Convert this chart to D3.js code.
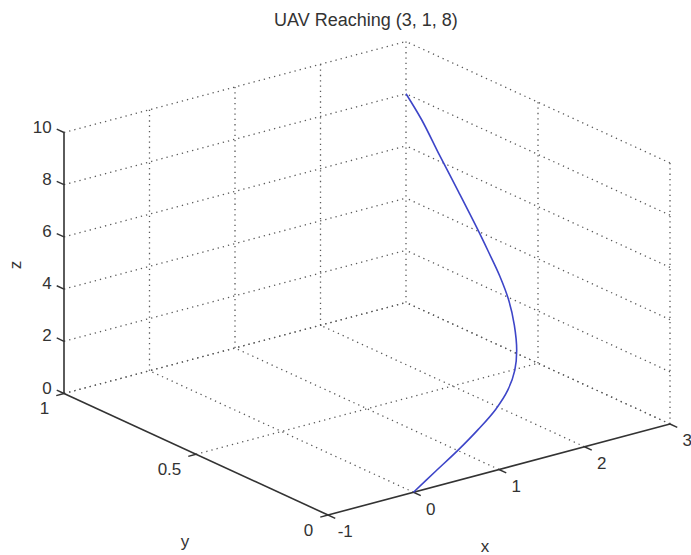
<!DOCTYPE html>
<html>
<head>
<meta charset="utf-8">
<script src="https://cdn.jsdelivr.net/npm/d3@7"></script>
<style>
  html, body { margin: 0; padding: 0; background: #fff; }
  svg { display: block; }
  text { font-family: "Liberation Sans", Arial, Helvetica, sans-serif; fill: #333; }
</style>
</head>
<body>
<svg id="chart" width="691" height="555"></svg>
<script>
// ---- data ----
const title = "UAV Reaching (3, 1, 8)";
const xTicks = [-1, 0, 1, 2, 3];
const yTicks = [0, 0.5, 1];
const zTicks = [0, 2, 4, 6, 8, 10];
const yTickLabels = ["0", "0.5", "1"];
const pathX = [0, 0.37, 0.75, 1.11, 1.43, 1.70, 1.92, 2.09, 2.26, 2.40, 2.50, 2.58, 2.65, 2.75, 2.85, 2.95, 3.0];
const pathY = [0, 0.037, 0.075, 0.114, 0.152, 0.193, 0.238, 0.286, 0.35, 0.417, 0.483, 0.553, 0.618, 0.72, 0.825, 0.924, 1.0];
const pathZ = [0, 0.30, 0.60, 0.91, 1.22, 1.54, 1.90, 2.29, 2.80, 3.34, 3.86, 4.42, 4.94, 5.76, 6.60, 7.39, 8.0];

// ---- projection built from linear scales ----
const xs = d3.scaleLinear().domain([-1, 3]).range([0, 1]);
const ys = d3.scaleLinear().domain([0, 1]).range([0, 1]);
const zs = d3.scaleLinear().domain([0, 10]).range([0, 261]);
const O = [328, 515];
const Xv = [342, -91];
const Yv = [-264, -121.5];
function P(x, y, z) {
  const u = xs(x), v = ys(y);
  return [O[0] + u * Xv[0] + v * Yv[0], O[1] + u * Xv[1] + v * Yv[1] - zs(z)];
}
function unit(v, s) { const l = Math.hypot(v[0], v[1]); return [v[0] / l * s, v[1] / l * s]; }

const svg = d3.select("#chart");
const gGrid = svg.append("g");
const gAxes = svg.append("g");

const gridSegs = [];
// back wall y = 1
xTicks.filter(x => x > -1).forEach(x => gridSegs.push([[x, 1, 0], [x, 1, 10]]));
zTicks.forEach(z => gridSegs.push([[-1, 1, z], [3, 1, z]]));
// right wall x = 3
yTicks.filter(y => y < 1).forEach(y => gridSegs.push([[3, y, 0], [3, y, 10]]));
zTicks.forEach(z => gridSegs.push([[3, 0, z], [3, 1, z]]));
// floor z = 0
xTicks.filter(x => x > -1).forEach(x => gridSegs.push([[x, 0, 0], [x, 1, 0]]));
yTicks.filter(y => y > 0).forEach(y => gridSegs.push([[-1, y, 0], [3, y, 0]]));

gGrid.selectAll("line").data(gridSegs).join("line")
  .attr("x1", d => P(...d[0])[0]).attr("y1", d => P(...d[0])[1])
  .attr("x2", d => P(...d[1])[0]).attr("y2", d => P(...d[1])[1])
  .attr("stroke", "#5a5a5a").attr("stroke-width", 1.3)
  .attr("stroke-dasharray", "1.3,4")
  .attr("stroke-linecap", "butt");

// axis lines
const axisSegs = [
  [[-1, 1, 0], [-1, 1, 10]],
  [[-1, 0, 0], [-1, 1, 0]],
  [[-1, 0, 0], [3, 0, 0]]
];
gAxes.selectAll("line.ax").data(axisSegs).join("line").attr("class", "ax")
  .attr("x1", d => P(...d[0])[0]).attr("y1", d => P(...d[0])[1])
  .attr("x2", d => P(...d[1])[0]).attr("y2", d => P(...d[1])[1])
  .attr("stroke", "#333").attr("stroke-width", 1.6);

const tl = 8;
const zDir = unit(Yv, tl);
const yDir = unit([-Xv[0], -Xv[1]], tl);
const xDir = unit([-Yv[0], -Yv[1]], tl);
const fs = 17;

// z ticks
zTicks.forEach(z => {
  const p = P(-1, 1, z);
  const e = [p[0] + zDir[0], p[1] + zDir[1]];
  gAxes.append("line").attr("x1", p[0]).attr("y1", p[1]).attr("x2", e[0]).attr("y2", e[1])
    .attr("stroke", "#333").attr("stroke-width", 1.4);
  gAxes.append("text").attr("x", e[0] - 5).attr("y", e[1] - 2)
    .attr("text-anchor", "end").attr("dominant-baseline", "central")
    .attr("font-size", fs).text(z);
});
// y ticks
yTicks.forEach((y, i) => {
  const p = P(-1, y, 0);
  const e = [p[0] + yDir[0], p[1] + yDir[1]];
  gAxes.append("line").attr("x1", p[0]).attr("y1", p[1]).attr("x2", e[0]).attr("y2", e[1])
    .attr("stroke", "#333").attr("stroke-width", 1.4);
  gAxes.append("text").attr("x", e[0] - 7).attr("y", e[1] + 13)
    .attr("text-anchor", "end").attr("dominant-baseline", "central")
    .attr("font-size", fs).text(yTickLabels[i]);
});
// x ticks
xTicks.forEach(x => {
  const p = P(x, 0, 0);
  const e = [p[0] + xDir[0], p[1] + xDir[1]];
  gAxes.append("line").attr("x1", p[0]).attr("y1", p[1]).attr("x2", e[0]).attr("y2", e[1])
    .attr("stroke", "#333").attr("stroke-width", 1.4);
  gAxes.append("text").attr("x", e[0] + 10).attr("y", e[1] + 13.5)
    .attr("text-anchor", "middle").attr("dominant-baseline", "central")
    .attr("font-size", fs).text(x);
});

// axis labels
svg.append("text").attr("transform", "translate(15,265) rotate(-90)")
  .attr("text-anchor", "middle").attr("dominant-baseline", "central")
  .attr("font-size", fs).text("z");
svg.append("text").attr("x", 185).attr("y", 541)
  .attr("text-anchor", "middle").attr("dominant-baseline", "central")
  .attr("font-size", fs).text("y");
svg.append("text").attr("x", 485).attr("y", 546)
  .attr("text-anchor", "middle").attr("dominant-baseline", "central")
  .attr("font-size", fs).text("x");
svg.append("text").attr("x", 366).attr("y", 20)
  .attr("text-anchor", "middle").attr("dominant-baseline", "central")
  .attr("font-size", 18).text(title);

// trajectory
const pts = pathX.map((x, i) => P(x, pathY[i], pathZ[i]));
svg.append("path")
  .attr("d", d3.line().curve(d3.curveCatmullRom)(pts))
  .attr("fill", "none").attr("stroke", "#3d45c8").attr("stroke-width", 1.6);
</script>
</body>
</html>
